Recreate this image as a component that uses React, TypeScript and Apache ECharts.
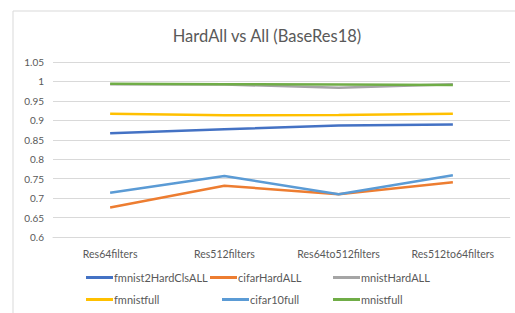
import React, { useEffect, useRef } from "react";
import * as echarts from "echarts";

const categories = ["Res64filters", "Res512filters", "Res64to512filters", "Res512to64filters"];
const fmnist2HardClsALL = [0.867, 0.877, 0.887, 0.889];
const cifarHardALL = [0.676, 0.732, 0.71, 0.741];
const mnistHardALL = [0.993, 0.992, 0.984, 0.993];
const fmnistfull = [0.917, 0.913, 0.914, 0.917];
const cifar10full = [0.714, 0.757, 0.71, 0.759];
const mnistfull = [0.994, 0.993, 0.992, 0.991];

const seriesNames = ["fmnist2HardClsALL", "cifarHardALL", "mnistHardALL", "fmnistfull", "cifar10full", "mnistfull"];
const seriesData = [fmnist2HardClsALL, cifarHardALL, mnistHardALL, fmnistfull, cifar10full, mnistfull];
const colors = ["#4472C4", "#ED7D31", "#A5A5A5", "#FFC000", "#5B9BD5", "#70AD47"];

const FONT = "Lato, 'Open Sans', sans-serif";
const legendPos = [
  { left: 86, top: 272 },
  { left: 210, top: 272 },
  { left: 333, top: 272 },
  { left: 86, top: 294 },
  { left: 222, top: 294 },
  { left: 333, top: 294 },
];

export default function App() {
  const ref = useRef<HTMLDivElement>(null);
  useEffect(() => {
    const chart = echarts.init(ref.current!, undefined, { renderer: "svg" });
    chart.setOption({
      animation: false,
      backgroundColor: "#fff",
      color: colors,
      title: {
        text: "HardAll vs All (BaseRes18)",
        left: 267,
        textAlign: "center",
        top: 27,
        padding: 0,
        textStyle: { fontFamily: FONT, fontSize: 16.5, fontWeight: "normal", color: "#595959" },
      },
      graphic: [
        {
          type: "rect",
          shape: { x: 13, y: 11, width: 520, height: 320 },
          style: { fill: "none", stroke: "#d9d9d9", lineWidth: 1 },
          silent: true,
        },
      ],
      legend: seriesNames.map((n, i) => ({
        data: [n],
        left: legendPos[i].left,
        top: legendPos[i].top,
        padding: 0,
        icon: "rect",
        itemWidth: 27,
        itemHeight: 3,
        itemGap: 0,
        textStyle: { fontFamily: FONT, fontSize: 11, color: "#595959", padding: [0, 0, 0, -4] },
      })),
      grid: { left: 53, right: 5, top: 62, bottom: 76, containLabel: false },
      xAxis: {
        type: "category",
        data: categories,
        axisLine: { show: true, lineStyle: { color: "#d9d9d9" } },
        axisTick: { show: false },
        axisLabel: { fontFamily: FONT, fontSize: 10.5, color: "#595959", margin: 11 },
      },
      yAxis: {
        type: "value",
        min: 0.6,
        max: 1.05,
        interval: 0.05,
        axisLine: { show: false },
        axisTick: { show: false },
        axisLabel: { fontFamily: FONT, fontSize: 10, color: "#595959", margin: 9 },
        splitLine: { lineStyle: { color: "#d9d9d9" } },
      },
      series: seriesNames.map((n, i) => ({
        name: n,
        type: "line",
        data: seriesData[i],
        showSymbol: false,
        symbol: "none",
        lineStyle: { width: 2.5, color: colors[i] },
        itemStyle: { color: colors[i] },
      })),
    });
    return () => chart.dispose();
  }, []);
  return (
    <div
      ref={ref}
      style={{ position: "fixed", left: 0, top: 0, width: 515, height: 313 }}
    />
  );
}
